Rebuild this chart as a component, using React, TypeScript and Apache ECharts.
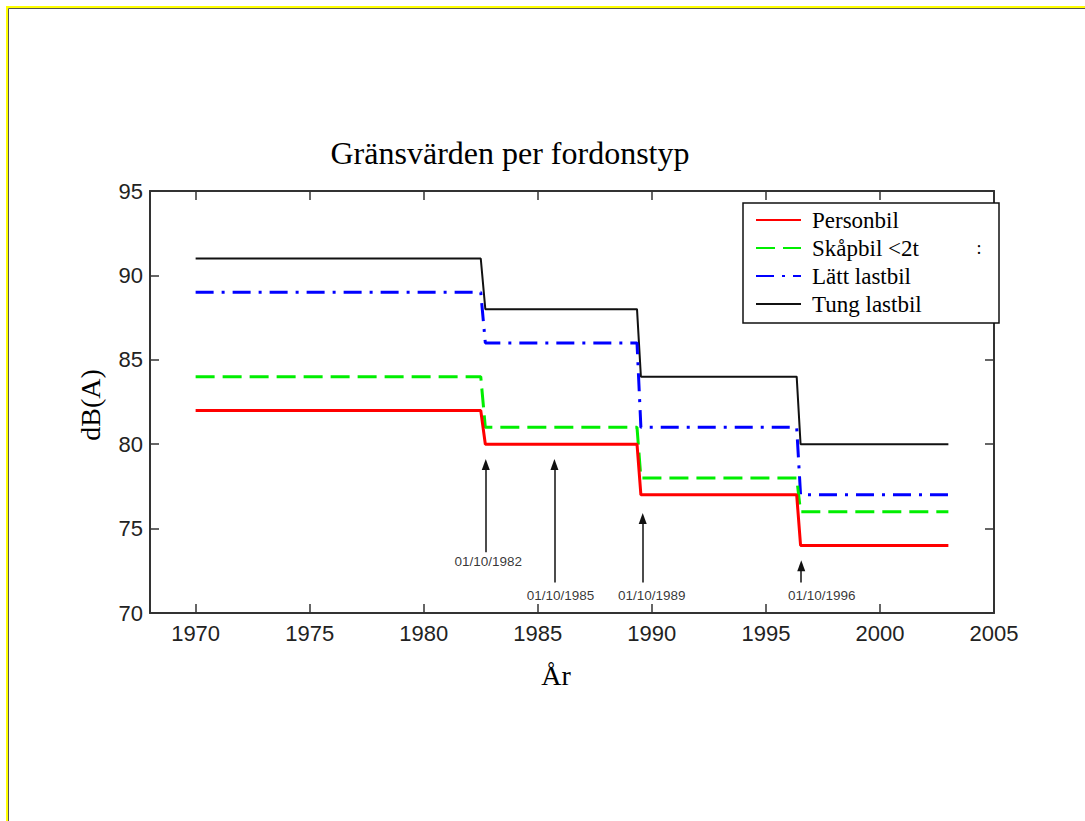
import React, { useEffect, useRef } from 'react';
import * as echarts from 'echarts';

// Step points (year) shared by all series
const years = [1970, 1982.5, 1982.7, 1989.35, 1989.52, 1996.35, 1996.52, 2003];
const personbil = [82, 82, 80, 80, 77, 77, 74, 74];
const skapbil = [84, 84, 81, 81, 78, 78, 76, 76];
const lattLastbil = [89, 89, 86, 86, 81, 81, 77, 77];
const tungLastbil = [91, 91, 88, 88, 84, 84, 80, 80];
const seriesNames = ['Personbil', 'Skåpbil <2t', 'Lätt lastbil', 'Tung lastbil'];

// Date annotations (arrows)
const annotationDates = ['01/10/1982', '01/10/1985', '01/10/1989', '01/10/1996'];
const arrowX = [1982.72, 1985.73, 1989.6, 1996.55];
const arrowTip = [78.8, 78.8, 75.6, 72.8];
const arrowBase = [73.6, 71.8, 71.8, 71.8];
const labelX = [1982.83, 1986.0, 1990.0, 1997.45];
const labelY = [73.05, 71.04, 71.04, 71.04];

const xMin = 1968;
const xMax = 2005;
const yMin = 70;
const yMax = 95;
const yStep = 5;

const tickFont = 'Liberation Sans, Arial, sans-serif';
const serifFont = 'Liberation Serif, Times New Roman, serif';

export default function App() {
  const ref = useRef<HTMLDivElement>(null);
  useEffect(() => {
    if (!ref.current) return;
    const chart = echarts.init(ref.current, null, { renderer: 'svg' });
    const mk = (name: string, vals: number[], color: string, width: number, type: any, z: number) => ({
      type: 'line',
      name,
      data: years.map((y, i) => [y, vals[i]]),
      symbol: 'none',
      showSymbol: false,
      z,
      itemStyle: { color },
      lineStyle: { color, width, type },
    });
    const axisLine = { show: true, lineStyle: { color: '#333', width: 2 } };
    const axisTick = { show: true, inside: true, length: 9, lineStyle: { color: '#333', width: 1.5 } };
    const option: any = {
      animation: false,
      backgroundColor: '#fff',
      grid: { left: 150, top: 191, right: 91, bottom: 208, containLabel: false },
      xAxis: [
        {
          type: 'value', min: xMin, max: xMax, splitNumber: 7, minInterval: 5, maxInterval: 5,
          axisLine, axisTick, splitLine: { show: false },
          axisLabel: {
            showMinLabel: false, margin: 9,
            fontFamily: tickFont, fontSize: 22, color: '#222',
            formatter: (v: number) => (v % 5 === 0 ? String(v) : ''),
          },
        },
        {
          type: 'value', position: 'top', min: xMin, max: xMax, splitNumber: 7, minInterval: 5, maxInterval: 5,
          axisLine, axisTick, splitLine: { show: false }, axisLabel: { show: false },
        },
      ],
      yAxis: [
        {
          type: 'value', min: yMin, max: yMax, interval: yStep,
          axisLine, axisTick, splitLine: { show: false },
          axisLabel: { margin: 7, fontFamily: tickFont, fontSize: 22, color: '#222' },
        },
        {
          type: 'value', position: 'right', min: yMin, max: yMax, interval: yStep,
          axisLine, axisTick, splitLine: { show: false }, axisLabel: { show: false },
        },
      ],
      legend: {
        data: seriesNames,
        orient: 'vertical',
        left: 755,
        top: 206,
        padding: 0,
        itemGap: 0,
        itemWidth: 45,
        itemHeight: 14,
        z: 100,
        itemStyle: { opacity: 0 },
        textStyle: { fontFamily: serifFont, fontSize: 23, color: '#000', lineHeight: 28, padding: [0, 0, 0, 6] },
      },
      graphic: [
        { type: 'rect', shape: { x: 7, y: 7, width: 1200, height: 1000 }, style: { fill: 'none', stroke: '#ffff00', lineWidth: 2 }, z: 1 },
        { type: 'rect', shape: { x: 8.5, y: 8.5, width: 1200, height: 1000 }, style: { fill: 'none', stroke: '#555', lineWidth: 1 }, z: 1 },
        { type: 'rect', shape: { x: 743, y: 203, width: 256, height: 120 }, style: { fill: '#fff', stroke: '#111', lineWidth: 1.5 }, z: 50 },
        { type: 'text', x: 979, y: 248, z: 55, style: { text: ':', fontFamily: serifFont, fontSize: 18, fill: '#000', align: 'center', verticalAlign: 'middle' } },
        { type: 'text', x: 510, y: 153, z: 55, style: { text: 'Gränsvärden per fordonstyp', fontFamily: serifFont, fontSize: 32, fill: '#000', align: 'center', verticalAlign: 'middle' } },
        { type: 'text', x: 90, y: 405, rotation: Math.PI / 2, z: 55, style: { text: 'dB(A)', fontFamily: serifFont, fontSize: 28, fill: '#000', align: 'center', verticalAlign: 'middle' } },
        { type: 'text', x: 556, y: 675, z: 55, style: { text: 'År', fontFamily: serifFont, fontSize: 28, fill: '#000', align: 'center', verticalAlign: 'middle' } },
      ],
      series: [
        mk(seriesNames[3], tungLastbil, '#111', 2, 'solid', 2),
        mk(seriesNames[2], lattLastbil, '#0000ff', 3, [18, 8, 3, 8], 3),
        mk(seriesNames[1], skapbil, '#00ee00', 3, [19, 8], 4),
        mk(seriesNames[0], personbil, '#ff0000', 3, 'solid', 5),
        {
          type: 'scatter',
          name: 'annotations',
          data: labelX.map((x, i) => ({ value: [x, labelY[i]], name: annotationDates[i] })),
          symbolSize: 2,
          itemStyle: { color: 'rgba(0,0,0,0)' },
          z: 6,
          label: {
            show: true, position: 'inside', formatter: '{b}',
            fontFamily: tickFont, fontSize: 13.5, color: '#000',
          },
          labelLayout: { hideOverlap: false },
          markLine: {
            silent: true,
            symbol: ['none', 'triangle'],
            symbolSize: [8, 11],
            label: { show: false },
            lineStyle: { color: '#111', width: 1.5, type: 'solid' },
            data: arrowX.map((x, i) => [{ coord: [x, arrowBase[i]] }, { coord: [x, arrowTip[i]] }]),
          },
        },
      ],
    };
    chart.setOption(option);
    return () => chart.dispose();
  }, []);
  return (
    <div
      ref={ref}
      style={{ position: 'fixed', left: 0, top: 0, width: 1085, height: 821, background: '#fff' }}
    />
  );
}
